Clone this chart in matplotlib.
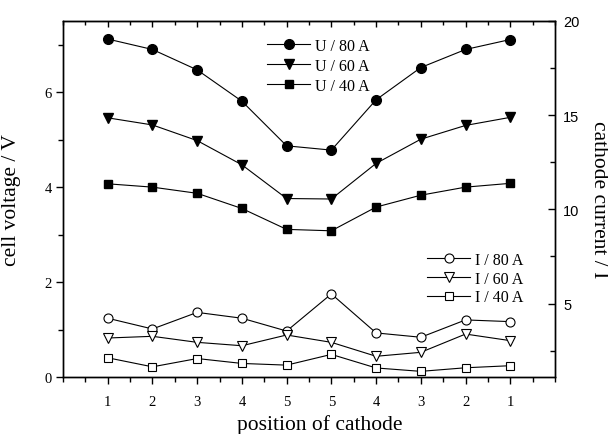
import matplotlib
matplotlib.use("Agg")
import matplotlib.pyplot as plt
from matplotlib.ticker import MultipleLocator, FixedLocator

# ---- data ----
positions = [1, 2, 3, 4, 5, 6, 7, 8, 9, 10]
position_labels = ['1', '2', '3', '4', '5', '5', '4', '3', '2', '1']

u80 = [7.12, 6.90, 6.47, 5.81, 4.87, 4.78, 5.84, 6.52, 6.90, 7.11]
u60 = [5.46, 5.31, 4.98, 4.47, 3.76, 3.75, 4.50, 5.01, 5.30, 5.47]
u40 = [4.07, 4.00, 3.87, 3.55, 3.11, 3.08, 3.58, 3.83, 4.00, 4.08]

i80 = [4.22, 3.65, 4.53, 4.22, 3.54, 5.51, 3.44, 3.21, 4.13, 4.04]
i60 = [3.17, 3.26, 2.94, 2.76, 3.33, 2.94, 2.20, 2.41, 3.38, 3.03]
i40 = [2.12, 1.64, 2.08, 1.82, 1.73, 2.30, 1.58, 1.40, 1.59, 1.70]

serif = ['Liberation Serif', 'DejaVu Serif']
sans = ['Liberation Sans', 'DejaVu Sans']

fig = plt.figure(figsize=(6.08, 4.35), dpi=100)
ax = fig.add_axes([63/608, 1-378/435, (555-63)/608, (378-22)/435])
ax2 = ax.twinx()

lw = 0.8
l1, = ax.plot(positions, u80, '-o', color='black', lw=lw, ms=7.0, label='U / 80 A')
l2, = ax.plot(positions, u60, '-v', color='black', lw=lw, ms=7.2, label='U / 60 A')
l3, = ax.plot(positions, u40, '-s', color='black', lw=lw, ms=5.5, label='U / 40 A')

k1, = ax2.plot(positions, i80, '-o', color='black', mfc='white', mec='black', mew=0.8,
               lw=lw, ms=6.5, label='I / 80 A')
k2, = ax2.plot(positions, i60, '-v', color='black', mfc='white', mec='black', mew=0.8,
               lw=lw, ms=7.2, label='I / 60 A')
k3, = ax2.plot(positions, i40, '-s', color='black', mfc='white', mec='black', mew=0.8,
               lw=lw, ms=5.5, label='I / 40 A')

ax.set_xlim(0, 11)
ax.set_ylim(0, 7.5)
ax2.set_ylim(1.1, 20)

for a in (ax, ax2):
    for s in a.spines.values():
        s.set_linewidth(1.0)

# x axis (bottom, outward)
ax.xaxis.set_major_locator(FixedLocator(positions))
ax.set_xticklabels(position_labels, fontfamily=serif, fontsize=10.5)
ax.xaxis.set_minor_locator(MultipleLocator(0.5))
ax.tick_params(axis='x', which='major', direction='out', length=5, width=1.0, pad=8)
ax.tick_params(axis='x', which='minor', direction='out', length=3.5, width=1.0)

# top axis inward ticks
sec = ax.secondary_xaxis('top')
sec.xaxis.set_major_locator(FixedLocator(positions))
sec.xaxis.set_minor_locator(MultipleLocator(0.5))
sec.tick_params(axis='x', which='major', direction='in', length=4, width=1.0, labeltop=False)
sec.tick_params(axis='x', which='minor', direction='in', length=3, width=1.0)
sec.set_xticklabels([])

# left axis
ax.yaxis.set_major_locator(MultipleLocator(2))
ax.yaxis.set_minor_locator(MultipleLocator(1))
ax.tick_params(axis='y', which='major', direction='out', length=5, width=1.0, pad=3,
               labelsize=10.5)
ax.tick_params(axis='y', which='minor', direction='out', length=3.5, width=1.0)
for t in ax.get_yticklabels():
    t.set_fontfamily(serif)

# right axis
ax2.yaxis.set_major_locator(MultipleLocator(5))
ax2.yaxis.set_minor_locator(MultipleLocator(2.5))
ax2.tick_params(axis='y', which='major', direction='in', length=5, width=1.0, pad=6,
                labelsize=10.5)
ax2.tick_params(axis='y', which='minor', direction='in', length=3.5, width=1.0)
for t in ax2.get_yticklabels():
    t.set_fontfamily(sans)
ax2.set_yticks([5, 10, 15, 20])

ax.set_xlabel('position of cathode', fontfamily=serif, fontsize=15.5, labelpad=4)
ax.xaxis.set_label_coords(0.522, -0.105)
ax.set_ylabel('cell voltage / V', fontfamily=serif, fontsize=15.5)
ax.yaxis.set_label_coords(-0.085, 0.5)
ax2.set_ylabel('cathode current / I', fontfamily=serif, fontsize=15.5, rotation=270,
               va='center')
ax2.yaxis.set_label_coords(1.088, 0.5)

leg_kw = dict(frameon=False, loc='upper left', borderpad=0, borderaxespad=0,
              handlelength=2.7, handletextpad=0.3,
              prop={'family': serif, 'size': 11.5})
leg1 = ax.legend(handles=[l1, l2, l3], bbox_to_anchor=(0.415, 0.952), labelspacing=0.25,
                 **leg_kw)
ax2.legend(handles=[k1, k2, k3], bbox_to_anchor=(0.74, 0.352), labelspacing=0.18, **leg_kw)

fig.savefig('out.png', dpi=100)
